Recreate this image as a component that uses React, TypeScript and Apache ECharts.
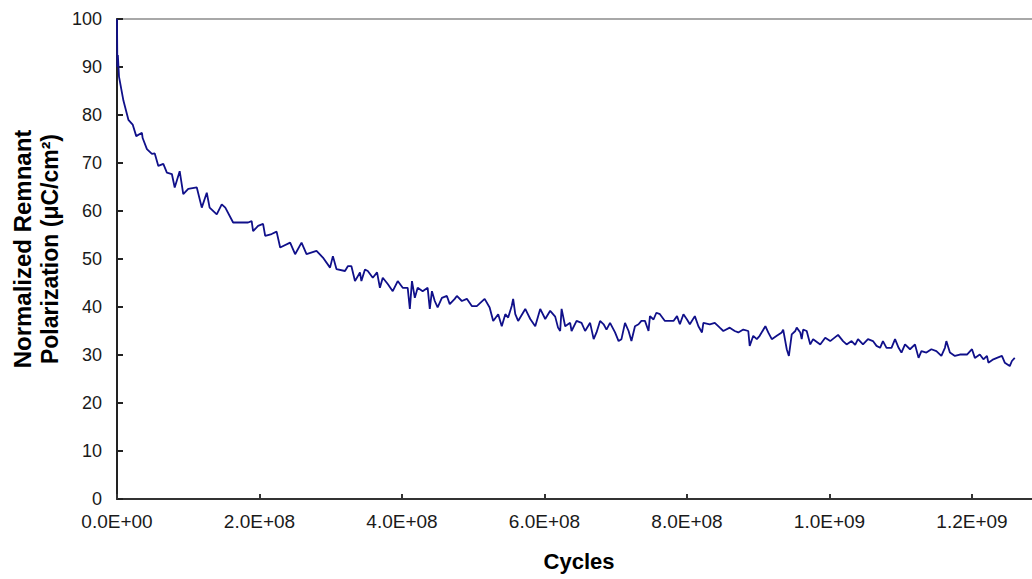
import React, { useEffect, useRef } from "react";
import * as echarts from "echarts";

// Cycles in millions (x) and normalized remnant polarization (y)
const cyclesMillions: number[] = [
  0, 0.5, 1.2, 2.8, 9, 16, 22, 27, 35, 36, 42, 49, 53, 58, 65, 70, 77, 81, 88, 93,
  100, 112, 119, 126, 130, 140, 147, 152, 163, 184, 189, 191, 198, 205, 208, 217, 224, 229, 243, 250,
  259, 266, 280, 289, 299, 303, 308, 320, 324, 329, 334, 341, 343, 348, 352, 359, 365, 369, 373, 380,
  387, 394, 401, 408, 411, 414, 418, 422, 429, 436, 439, 442, 446, 450, 456, 463, 467, 474, 477, 484,
  491, 498, 505, 516, 523, 528, 535, 540, 545, 549, 554, 556, 559, 563, 573, 580, 587, 594, 601, 608,
  615, 619, 622, 624, 629, 636, 638, 645, 652, 657, 664, 669, 673, 678, 683, 687, 692, 699, 704, 708,
  713, 718, 722, 727, 732, 736, 741, 746, 748, 753, 757, 762, 769, 781, 786, 790, 795, 800, 804, 811,
  816, 821, 823, 832, 839, 846, 851, 860, 867, 872, 879, 886, 888, 893, 898, 902, 910, 914, 919, 926,
  933, 935, 940, 943, 947, 952, 954, 959, 961, 963, 968, 973, 977, 987, 994, 1001, 1012, 1019, 1024, 1031,
  1036, 1040, 1047, 1054, 1061, 1066, 1071, 1075, 1080, 1087, 1092, 1097, 1101, 1106, 1113, 1120, 1125, 1129, 1136, 1143,
  1150, 1157, 1162, 1164, 1169, 1176, 1183, 1193, 1200, 1204, 1211, 1216, 1221, 1223, 1230, 1235, 1242, 1246, 1253, 1256,
  1260,
];

const polarization: number[] = [
  100, 90, 92.5, 88, 83, 79, 78, 75.6, 76.3, 75.2, 72.9, 71.9, 72, 69.4, 69.8, 68, 67.7, 64.9, 68.3, 63.5,
  64.6, 64.9, 60.7, 63.8, 60.7, 59.3, 61.4, 60.7, 57.6, 57.6, 57.9, 55.8, 56.9, 57.3, 54.8, 55.2, 55.7, 52.4, 53.4, 51,
  53.4, 51, 51.7, 50.3, 48.2, 50.6, 47.9, 47.5, 48.5, 48.5, 45.4, 47.2, 45.4, 47.8, 47.5, 46.1, 47.2, 44, 46.1, 44.8,
  43.3, 45.4, 44, 44, 39.6, 45.4, 41.9, 44, 43.3, 44, 39.6, 43.3, 41.25, 39.9, 41.9, 42.3, 40.6, 41.7, 42.3, 41.25,
  41.7, 40.2, 40.2, 41.7, 39.9, 37.1, 38.5, 36, 38.5, 37.8, 40.2, 41.7, 38.5, 37.1, 39.6, 37.5, 36, 39.6, 37.5, 39.2,
  38, 35.7, 35, 39.6, 36, 36.7, 35, 37.1, 36.7, 35, 36.7, 33.3, 34.7, 37.1, 36.4, 35.3, 36.7, 34.7, 32.9, 33.3,
  36.7, 35, 32.9, 36, 36.4, 37.1, 37.1, 35, 38.1, 37.4, 38.8, 38.5, 37.1, 37.1, 38.1, 36.4, 38.5, 37.4, 36.4, 38.1,
  36, 34.7, 36.7, 36.4, 36.7, 35.7, 35, 35.7, 35, 34.7, 35.3, 35, 31.9, 34, 33.3, 34, 36, 34.7, 33.3, 34,
  34.7, 35.3, 31.2, 29.8, 34.3, 35, 35.7, 34.7, 33.3, 35.3, 35, 32.2, 33.3, 32.2, 33.6, 32.9, 34.2, 32.9, 32.2, 32.9,
  32.1, 33.3, 32.2, 33.3, 32.9, 31.9, 31.5, 32.9, 31.5, 31.5, 33.3, 31.5, 30.5, 32.2, 31.2, 32.2, 29.4, 30.8, 30.5, 31.2,
  30.8, 29.8, 31.5, 32.9, 30.5, 29.8, 30.1, 30.1, 31.2, 29.4, 30.1, 29.1, 29.8, 28.4, 29.1, 29.4, 29.8, 28.4, 27.7, 28.75,
  29.4,
];

const yTitleLine1 = "Normalized Remnant";
const yTitleLine2 = "Polarization (μC/cm²)";
const xTitle = "Cycles";

const FONT = "'Liberation Sans', Arial, sans-serif";
const TEXT_COLOR = "#1a1a1a";

function formatSci(v: number): string {
  if (v > 1.25e9) return "";
  if (v === 0) return "0.0E+00";
  const exp = Math.floor(Math.log10(Math.abs(v)));
  const mant = v / Math.pow(10, exp);
  const e = String(Math.abs(exp)).padStart(2, "0");
  return `${mant.toFixed(1)}E${exp >= 0 ? "+" : "-"}${e}`;
}

export default function App() {
  const ref = useRef<HTMLDivElement>(null);

  useEffect(() => {
    document.body.style.margin = "0";
    if (!ref.current) return;
    const chart = echarts.init(ref.current, undefined, { renderer: "svg" });
    const data = cyclesMillions.map((c, i) => [c * 1e6, polarization[i]]);

    chart.setOption({
      animation: false,
      backgroundColor: "#ffffff",
      grid: {
        left: 117,
        top: 19,
        width: 926.25,
        height: 480,
        show: true,
        borderColor: "#a8a8a8",
        borderWidth: 2,
        backgroundColor: "transparent",
        containLabel: false,
        outerBoundsMode: "none",
      },
      xAxis: {
        type: "value",
        min: 0,
        max: 1.3e9,
        interval: 2e8,
        axisLine: { show: true, lineStyle: { color: "#333333", width: 2 } },
        axisTick: { show: true, inside: true, length: 5, lineStyle: { color: "#333333", width: 2 } },
        splitLine: { show: false },
        axisLabel: {
          margin: 13,
          fontSize: 19,
          fontFamily: FONT,
          color: TEXT_COLOR,
          showMaxLabel: false,
          formatter: (v: number) => formatSci(v),
        },
      },
      yAxis: {
        type: "value",
        min: 0,
        max: 100,
        interval: 10,
        axisLine: { show: true, lineStyle: { color: "#222222", width: 2 } },
        axisTick: { show: true, inside: true, length: 6, lineStyle: { color: "#222222", width: 2 } },
        splitLine: { show: false },
        axisLabel: {
          margin: 15,
          fontSize: 18,
          fontFamily: FONT,
          color: TEXT_COLOR,
        },
      },
      graphic: [
        {
          type: "text",
          x: 22,
          y: 249,
          rotation: Math.PI / 2,
          style: {
            text: yTitleLine1,
            fontSize: 24,
            fontWeight: "bold",
            fontFamily: FONT,
            fill: "#000000",
            textAlign: "center",
            textVerticalAlign: "middle",
          },
        },
        {
          type: "text",
          x: 50,
          y: 249,
          rotation: Math.PI / 2,
          style: {
            text: yTitleLine2,
            fontSize: 23,
            fontWeight: "bold",
            fontFamily: FONT,
            fill: "#000000",
            textAlign: "center",
            textVerticalAlign: "middle",
          },
        },
        {
          type: "text",
          x: 579,
          y: 561,
          style: {
            text: xTitle,
            fontSize: 22,
            fontWeight: "bold",
            fontFamily: FONT,
            fill: "#000000",
            textAlign: "center",
            textVerticalAlign: "middle",
          },
        },
      ],
      series: [
        {
          type: "line",
          data,
          showSymbol: false,
          symbol: "none",
          lineStyle: { color: "#10108a", width: 1.8 },
          clip: false,
        },
      ],
    });

    return () => chart.dispose();
  }, []);

  return <div ref={ref} style={{ width: 1032, height: 579 }} />;
}
